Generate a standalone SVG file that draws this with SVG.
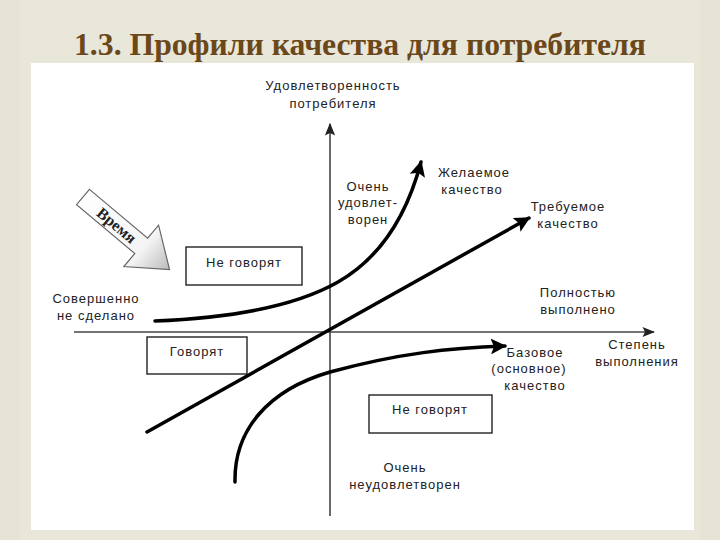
<svg xmlns="http://www.w3.org/2000/svg" width="720" height="540" viewBox="0 0 720 540">
<defs>
<style>
.lbl{font-family:"Liberation Sans",Arial,sans-serif;font-size:13px;fill:#222;letter-spacing:1px}
.box{fill:#fff;stroke:#111;stroke-width:1.3}
.axis{stroke:#444;stroke-width:1.6;fill:none}
.crv{stroke:#000;stroke-width:3.5;fill:none;stroke-linecap:round}
</style>
<marker id="ah" viewBox="0 0 10 10" refX="9" refY="5" markerWidth="4.5" markerHeight="4.5" orient="auto" markerUnits="strokeWidth">
<path d="M0,0 L10,5 L0,10 L2,5 Z" fill="#000"/>
</marker>
<marker id="ax" viewBox="0 0 10 10" refX="9" refY="5" markerWidth="8" markerHeight="8" orient="auto" markerUnits="strokeWidth">
<path d="M0,1 L10,5 L0,9 L2,5 Z" fill="#222"/>
</marker>
<linearGradient id="tg" x1="0" y1="0" x2="1" y2="0">
<stop offset="0" stop-color="#fff"/>
<stop offset="0.7" stop-color="#f4f4f4"/>
<stop offset="1" stop-color="#bbb"/>
</linearGradient>
</defs>
<rect width="720" height="540" fill="#e7e3d5"/>
<rect x="20" y="0" width="680" height="540" fill="#e9e6da"/>
<rect x="31" y="63" width="663" height="467" fill="#fff"/>
<text x="360" y="55" text-anchor="middle" font-family="Liberation Serif,serif" font-weight="bold" font-size="31" fill="#6a481a" textLength="572" lengthAdjust="spacingAndGlyphs">1.3. Профили качества для потребителя</text>

<g id="connectors">
<line class="axis" x1="330" y1="516" x2="330" y2="124" marker-end="url(#ax)"/>
<line class="axis" x1="74" y1="332" x2="654" y2="332" marker-end="url(#ax)"/>
<path id="desired" class="crv" d="M155,321 C230,318 296,306 338,282 C380,258 407,215 421,162" marker-end="url(#ah)"/>
<path id="required" class="crv" d="M147,432 L529,218" marker-end="url(#ah)"/>
<path id="basic" class="crv" d="M235,482 C234,430 268,390 330,372 C400,353 450,348 505,346" marker-end="url(#ah)"/>
</g>

<g id="time-arrow" transform="translate(83,197) rotate(40)">
<polygon points="0,-10 76,-10 76,-27 113,0 76,27 76,10 0,10" fill="url(#tg)" stroke="#666" stroke-width="1.2"/>
<text x="44" y="5.5" text-anchor="middle" font-family="Liberation Serif,serif" font-weight="bold" font-size="16" fill="#222">Время</text>
</g>

<g id="box-top">
<rect class="box" x="186" y="247" width="116" height="38"/>
<text class="lbl" x="244" y="267" text-anchor="middle">Не говорят</text>
</g>
<g id="box-say">
<rect class="box" x="147" y="337" width="100" height="37"/>
<text class="lbl" x="197" y="356" text-anchor="middle">Говорят</text>
</g>
<g id="box-bottom">
<rect class="box" x="369" y="395" width="123" height="38"/>
<text class="lbl" x="430" y="414" text-anchor="middle">Не говорят</text>
</g>

<g id="label-yaxis">
<text class="lbl" x="333" y="90" text-anchor="middle">Удовлетворенность</text>
<text class="lbl" x="333" y="108" text-anchor="middle">потребителя</text>
</g>
<g id="label-very-satisfied">
<text class="lbl" x="368" y="191" text-anchor="middle">Очень</text>
<text class="lbl" x="368" y="207" text-anchor="middle">удовлет-</text>
<text class="lbl" x="368" y="224" text-anchor="middle">ворен</text>
</g>
<g id="label-desired">
<text class="lbl" x="474" y="177" text-anchor="middle">Желаемое</text>
<text class="lbl" x="472" y="194" text-anchor="middle">качество</text>
</g>
<g id="label-required">
<text class="lbl" x="568" y="211" text-anchor="middle">Требуемое</text>
<text class="lbl" x="568" y="228" text-anchor="middle">качество</text>
</g>
<g id="label-not-done">
<text class="lbl" x="96" y="303" text-anchor="middle">Совершенно</text>
<text class="lbl" x="96" y="320" text-anchor="middle">не сделано</text>
</g>
<g id="label-fully">
<text class="lbl" x="578" y="297" text-anchor="middle">Полностью</text>
<text class="lbl" x="578" y="314" text-anchor="middle">выполнено</text>
</g>
<g id="label-basic">
<text class="lbl" x="535" y="357" text-anchor="middle">Базовое</text>
<text class="lbl" x="529" y="373" text-anchor="middle">(основное)</text>
<text class="lbl" x="535" y="390" text-anchor="middle">качество</text>
</g>
<g id="label-xaxis">
<text class="lbl" x="637" y="349" text-anchor="middle">Степень</text>
<text class="lbl" x="637" y="366" text-anchor="middle">выполнения</text>
</g>
<g id="label-very-unsatisfied">
<text class="lbl" x="405" y="472" text-anchor="middle">Очень</text>
<text class="lbl" x="405" y="489" text-anchor="middle">неудовлетворен</text>
</g>
</svg>
